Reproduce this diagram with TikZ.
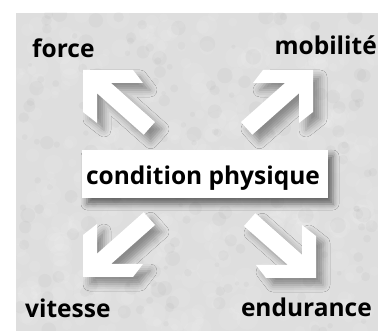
\documentclass[tikz,border=0pt]{standalone}
\usepackage{fontspec}
\setmainfont{Open Sans}
\usetikzlibrary{shadows.blur}
\definecolor{bgpaper}{RGB}{222,222,222}
\tikzset{
  arrowshape/.style={fill=white, blur shadow={shadow xshift=7pt, shadow yshift=-7pt, shadow blur radius=7pt, shadow opacity=38}},
  lbl/.style={font=\fontsize{24.5}{28}\selectfont\bfseries, inner sep=0pt, text=black},
  centerbox/.style={fill=white, inner sep=0pt, minimum width=246pt, minimum height=48pt,
     blur shadow={shadow xshift=5pt, shadow yshift=-6pt, shadow blur radius=6pt, shadow opacity=55}},
}
% #1 tip x, #2 tip y, #3 x sign, #4 y sign
\newcommand\bigarrowat[4]{%
  \path[arrowshape] ({#1},{#2})
    -- ({#1+#3*50},{#2})
    -- ({#1+#3*60},{#2+#4*13})
    -- ({#1+#3*28},{#2+#4*13})
    -- ({#1+#3*72},{#2+#4*52})
    -- ({#1+#3*60.7},{#2+#4*64.7})
    -- ({#1+#3*14},{#2+#4*23.3})
    -- ({#1+#3*14},{#2+#4*53})
    -- ({#1},{#2+#4*42}) -- cycle;}
\begin{document}
\begin{tikzpicture}[x=1pt,y=-1pt]
\useasboundingbox (0,0) rectangle (378,331);
\fill[white] (0,0) rectangle (378,331);
\fill[bgpaper] (16,13) rectangle (378,331);
\begin{scope}
  \clip (16,13) rectangle (378,331);
  \pgfmathsetseed{7}
  \foreach \i in {1,...,420}{
    \fill[white, opacity=0.09] ({16+362*rnd},{13+318*rnd}) circle[radius={3pt+9pt*rnd}];
  }
  \foreach \i in {1,...,200}{
    \fill[black, opacity=0.025] ({16+362*rnd},{13+318*rnd}) circle[radius={2pt+6pt*rnd}];
  }
\end{scope}
\bigarrowat{83}{70}{1}{1}
\bigarrowat{313}{70}{-1}{1}
\bigarrowat{83}{277}{1}{-1}
\bigarrowat{316}{278}{-1}{-1}
\node[centerbox] (box) at (205,174) {};
\node[lbl, anchor=base] (cp) at (203,185) {condition physique};
\node[lbl, anchor=base west] (force) at (32,58) {force};
\node[lbl, anchor=base east] (mob) at (377,55) {mobilité};
\node[lbl, anchor=base west] (vit) at (25,318) {vitesse};
\node[lbl, anchor=base east] (end) at (372,317) {endurance};
\end{tikzpicture}
\end{document}
